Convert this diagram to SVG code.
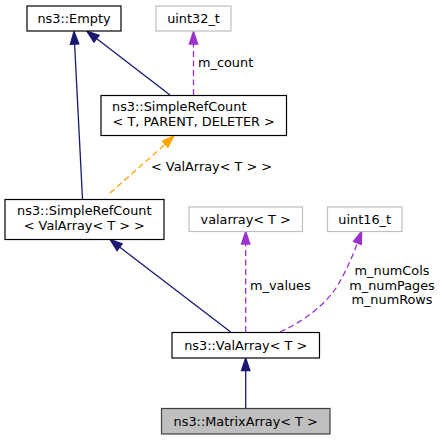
<svg xmlns="http://www.w3.org/2000/svg" width="442" height="440" viewBox="0 0 442 440">
<style>
text{font-family:"DejaVu Sans",sans-serif;font-size:12.85px;fill:#000}
.n rect{fill:#fff;stroke:#000;stroke-width:1.2}
.g rect{fill:#fff;stroke:#bfbfbf;stroke-width:1.2}
.cur rect{fill:#bfbfbf;stroke:#404040;stroke-width:1.2}
.m{text-anchor:middle}
.inh{fill:none;stroke:#191970;stroke-width:1.3}
.inh2{fill:#191970;stroke:#191970;stroke-width:1.3}
.use{fill:none;stroke:#9a32cd;stroke-width:1.3;stroke-dasharray:6,3.5}
.useh{fill:#9a32cd;stroke:#9a32cd;stroke-width:1.3}
.tpl{fill:none;stroke:#ffa500;stroke-width:1.3;stroke-dasharray:6,3.5}
.tplh{fill:#ffa500;stroke:#ffa500;stroke-width:1.3}
</style>
<g id="edges">
<!-- ValArray -> MatrixArray -->
<path class="inh" d="M245.7,408 L245.7,370"/>
<polygon class="inh2" points="245.7,358 241.5,370.5 249.9,370.5"/>
<!-- SimpleRefCount<ValArray> -> ValArray -->
<path class="inh" d="M230.7,332 L119.5,247"/>
<polygon class="inh2" points="110,239.5 117,250.5 122.1,243.8"/>
<!-- Empty -> SimpleRefCount<ValArray> -->
<path class="inh" d="M82.5,199 L74.6,44"/>
<polygon class="inh2" points="74,31.5 70.4,44.3 78.8,43.9"/>
<!-- Empty -> SimpleRefCount<T,...> -->
<path class="inh" d="M170,95 L96.5,38.5"/>
<polygon class="inh2" points="87,31.3 94,42 99.1,35.3"/>
<!-- template instance -->
<path class="tpl" d="M110,193 L165.3,144.3"/>
<polygon class="tplh" points="174,135.5 162.4,141.3 168,147.4"/>
<!-- m_count -->
<path class="use" d="M193.5,95 L193.5,44"/>
<polygon class="useh" points="193.5,31.5 189.3,44 197.7,44"/>
<!-- m_values -->
<path class="use" d="M245.7,332 L245.7,244"/>
<polygon class="useh" points="245.7,231.5 241.5,244 249.9,244"/>
<!-- uint16 members -->
<path class="use" d="M280,332 C302,322 324,306 336,288 C346,272 352,257 357.5,243"/>
<polygon class="useh" points="361.7,231 353.5,241.5 361.3,244.6"/>
<text x="198" y="66.5">m_count</text>
<text x="151" y="170.5">&lt; ValArray&lt; T &gt; &gt;</text>
<text x="250" y="289.5">m_values</text>
<text class="m" x="392" y="275">m_numCols</text>
<text class="m" x="392" y="289.5">m_numPages</text>
<text class="m" x="392" y="304">m_numRows</text>
</g>
<g id="node_empty" class="n">
<rect x="27" y="6" width="94" height="25"/>
<text class="m" x="74" y="23">ns3::Empty</text>
</g>
<g id="node_uint32" class="g">
<rect x="156" y="6" width="75" height="25"/>
<text class="m" x="193.5" y="23">uint32_t</text>
</g>
<g id="node_src_tpl" class="n">
<rect x="101" y="95.5" width="185.5" height="40"/>
<text x="112" y="111">ns3::SimpleRefCount</text>
<text class="m" x="193.7" y="126">&lt; T, PARENT, DELETER &gt;</text>
</g>
<g id="node_src_val" class="n">
<rect x="5" y="199.5" width="159" height="40"/>
<text class="m" x="84.3" y="215">ns3::SimpleRefCount</text>
<text class="m" x="84.3" y="229.5">&lt; ValArray&lt; T &gt; &gt;</text>
</g>
<g id="node_valarray" class="g">
<rect x="189" y="207" width="113.5" height="24.5"/>
<text class="m" x="245.7" y="223.5">valarray&lt; T &gt;</text>
</g>
<g id="node_uint16" class="g">
<rect x="327.5" y="207" width="74.5" height="24.5"/>
<text class="m" x="364.7" y="223.5">uint16_t</text>
</g>
<g id="node_ValArray" class="n">
<rect x="172" y="332.5" width="147.5" height="25.5"/>
<text class="m" x="245.7" y="349.5">ns3::ValArray&lt; T &gt;</text>
</g>
<g id="node_MatrixArray" class="cur">
<rect x="161.5" y="408.5" width="168.5" height="25.5"/>
<text class="m" x="245.7" y="425.5">ns3::MatrixArray&lt; T &gt;</text>
</g>
</svg>
